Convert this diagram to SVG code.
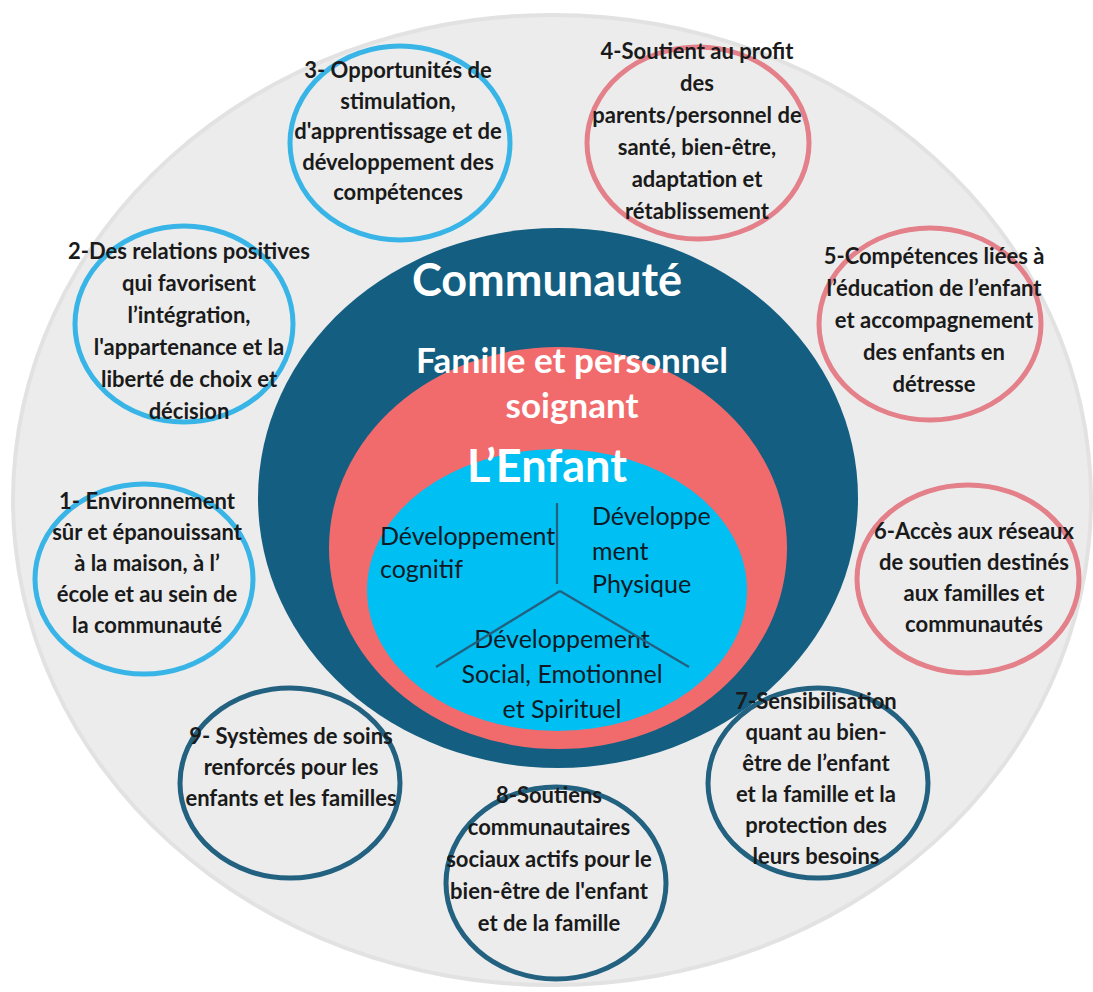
<svg xmlns="http://www.w3.org/2000/svg" width="1093" height="992" viewBox="0 0 1093 992">
<style>
.ring{fill:none;stroke-width:5}
.rb{stroke:#38B5E6}
.rp{stroke:#E3808A}
.rd{stroke:#22617F}
.rt{font-family:Lato,"Liberation Sans",sans-serif;font-weight:700;font-size:22px;fill:#1a1a1a;text-anchor:middle}
.ti{font-family:Lato,"Liberation Sans",sans-serif;font-weight:700;fill:#ffffff;text-anchor:middle}
.dv{font-family:Lato,"Liberation Sans",sans-serif;font-size:25px;fill:#0d1a26}
</style>
<rect width="1093" height="992" fill="#ffffff"/>
<g id="background">
<ellipse cx="552" cy="500" rx="541" ry="487" fill="#e2e2e2"/>
<ellipse cx="552" cy="500" rx="537" ry="483" fill="#ececec"/>
</g>
<g id="communaute">
<ellipse cx="558" cy="498" rx="300" ry="270" fill="#135E81"/>
<text class="ti" x="547" y="296" font-size="45">Communauté</text>
</g>
<g id="famille">
<ellipse cx="558" cy="548" rx="229" ry="201" fill="#F26B6C"/>
<text class="ti" x="572" y="373" font-size="35">Famille et personnel</text>
<text class="ti" x="572" y="418" font-size="35">soignant</text>
</g>
<g id="enfant">
<ellipse cx="557" cy="590" rx="190" ry="141" fill="#00BFF2"/>
<text class="ti" x="547" y="482" font-size="45">L’Enfant</text>
<text class="dv" x="380" y="545">Développement</text>
<text class="dv" x="380" y="578">cognitif</text>
<text class="dv" x="592" y="525">Développe</text>
<text class="dv" x="592" y="560">ment</text>
<text class="dv" x="592" y="593">Physique</text>
<text class="dv" x="562" y="648" text-anchor="middle">Développement</text>
<text class="dv" x="562" y="683" text-anchor="middle">Social, Emotionnel</text>
<text class="dv" x="562" y="718" text-anchor="middle">et Spirituel</text>
</g>
<g id="dividers" stroke="#23607F" stroke-width="2.2" fill="none">
<path d="M557,503 V584"/>
<path d="M560,591 L436,667"/>
<path d="M560,591 L689,667"/>
</g>
<g id="node1">
<ellipse class="ring rb" cx="144" cy="579" rx="109" ry="95"/>
<text class="rt"><tspan x="147" y="509">1- Environnement</tspan><tspan x="147" y="540">sûr et épanouissant</tspan><tspan x="147" y="571">à la maison, à l’</tspan><tspan x="147" y="602">école et au sein de</tspan><tspan x="147" y="633">la communauté</tspan></text>
</g>
<g id="node2">
<ellipse class="ring rb" cx="184" cy="324" rx="109" ry="98"/>
<text class="rt"><tspan x="189" y="259">2-Des relations positives</tspan><tspan x="189" y="291">qui favorisent</tspan><tspan x="189" y="323">l’intégration,</tspan><tspan x="189" y="355">l'appartenance et la</tspan><tspan x="189" y="387">liberté de choix et</tspan><tspan x="189" y="419">décision</tspan></text>
</g>
<g id="node3">
<ellipse class="ring rb" cx="400" cy="143" rx="110" ry="97"/>
<text class="rt"><tspan x="398" y="78">3- Opportunités de</tspan><tspan x="398" y="109">stimulation,</tspan><tspan x="398" y="139">d'apprentissage et de</tspan><tspan x="398" y="170">développement des</tspan><tspan x="398" y="200">compétences</tspan></text>
</g>
<g id="node4">
<ellipse class="ring rp" cx="698" cy="143" rx="111" ry="96"/>
<text class="rt"><tspan x="697" y="59">4-Soutient au profit</tspan><tspan x="697" y="91">des</tspan><tspan x="697" y="123">parents/personnel de</tspan><tspan x="697" y="155">santé, bien-être,</tspan><tspan x="697" y="187">adaptation et</tspan><tspan x="697" y="219">rétablissement</tspan></text>
</g>
<g id="node5">
<ellipse class="ring rp" cx="930" cy="324" rx="111" ry="96"/>
<text class="rt"><tspan x="934" y="264">5-Compétences liées à</tspan><tspan x="934" y="296">l’éducation de l’enfant</tspan><tspan x="934" y="328">et accompagnement</tspan><tspan x="934" y="360">des enfants en</tspan><tspan x="934" y="392">détresse</tspan></text>
</g>
<g id="node6">
<ellipse class="ring rp" cx="968" cy="579" rx="111" ry="94"/>
<text class="rt"><tspan x="974" y="539">6-Accès aux réseaux</tspan><tspan x="974" y="570">de soutien destinés</tspan><tspan x="974" y="601">aux familles et</tspan><tspan x="974" y="632">communautés</tspan></text>
</g>
<g id="node7">
<ellipse class="ring rd" cx="818" cy="783" rx="110" ry="95"/>
<text class="rt"><tspan x="816" y="709">7-Sensibilisation</tspan><tspan x="816" y="740">quant au bien-</tspan><tspan x="816" y="771">être de l’enfant</tspan><tspan x="816" y="802">et la famille et la</tspan><tspan x="816" y="833">protection des</tspan><tspan x="816" y="864">leurs besoins</tspan></text>
</g>
<g id="node8">
<ellipse class="ring rd" cx="556" cy="883" rx="110" ry="96"/>
<text class="rt"><tspan x="549" y="803">8-Soutiens</tspan><tspan x="549" y="835">communautaires</tspan><tspan x="549" y="867">sociaux actifs pour le</tspan><tspan x="549" y="899">bien-être de l'enfant</tspan><tspan x="549" y="931">et de la famille</tspan></text>
</g>
<g id="node9">
<ellipse class="ring rd" cx="290" cy="783" rx="110" ry="95"/>
<text class="rt"><tspan x="291" y="744">9- Systèmes de soins</tspan><tspan x="291" y="775">renforcés pour les</tspan><tspan x="291" y="806">enfants et les familles</tspan></text>
</g>
</svg>
